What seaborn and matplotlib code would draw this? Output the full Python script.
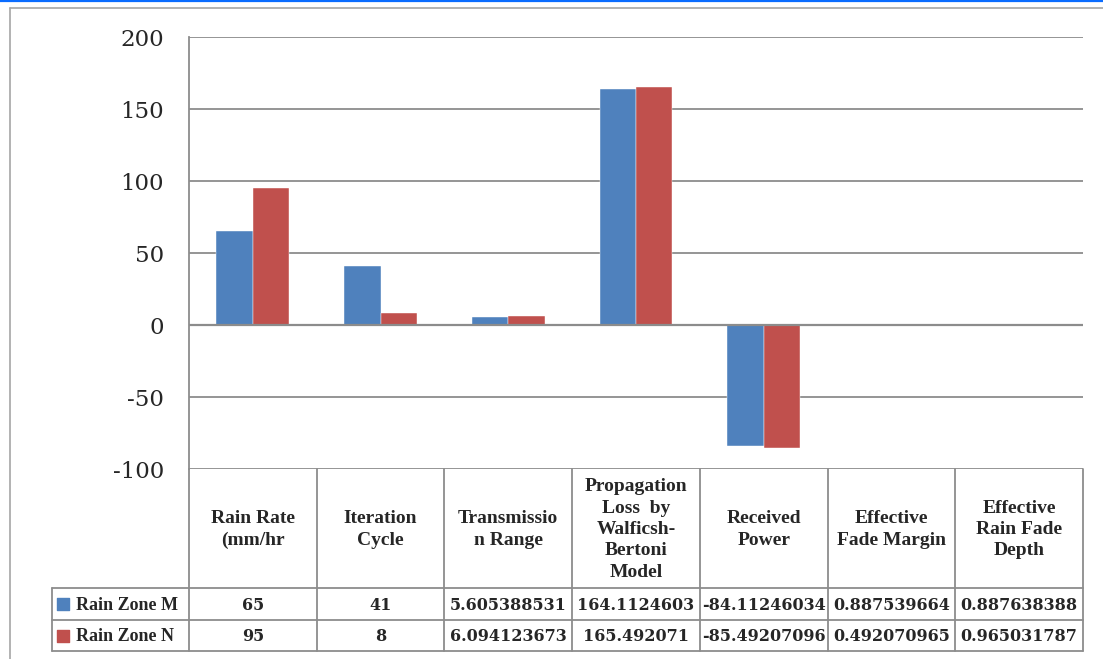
import numpy as np
import pandas as pd
import matplotlib
matplotlib.use("Agg")
import matplotlib.pyplot as plt
import seaborn as sns

# ================= DATA =================
categories = [
    "Rain Rate\n(mm/hr",
    "Iteration\nCycle",
    "Transmissio\nn Range",
    "Propagation\nLoss  by\nWalficsh-\nBertoni\nModel",
    "Received\nPower",
    "Effective\nFade Margin",
    "Effective\nRain Fade\nDepth",
]
series_names = ["Rain Zone M", "Rain Zone N"]
zone_m = [65, 41, 5.605388531, 164.1124603, -84.11246034, 0.887539664, 0.887638388]
zone_n = [95, 8, 6.094123673, 165.492071, -85.49207096, 0.492070965, 0.965031787]
zone_m_text = ["65", "41", "5.605388531", "164.1124603", "-84.11246034", "0.887539664", "0.887638388"]
zone_n_text = ["95", "8", "6.094123673", "165.492071", "-85.49207096", "0.492070965", "0.965031787"]
y_ticks = [-100, -50, 0, 50, 100, 150, 200]

colors = ["#4F81BD", "#C0504D"]
GRID = "#8c8c8c"

df = pd.DataFrame({
    "category": categories * 2,
    "series": [series_names[0]] * len(categories) + [series_names[1]] * len(categories),
    "value": zone_m + zone_n,
})

# ================= FIGURE =================
W, H = 1103, 659
fig = plt.figure(figsize=(W / 100, H / 100), dpi=100)
sns.set_style("white")
plt.rcParams["font.family"] = ["Liberation Serif", "DejaVu Serif"]
NUM_FONT = ["DejaVu Serif"]


def px(x0, y0, x1, y1):
    return [x0 / W, 1 - y1 / H, (x1 - x0) / W, (y1 - y0) / H]


# top blue rule and outer frame
fig.add_artist(plt.Line2D([0, 1], [1 - 0.8 / H, 1 - 0.8 / H], color="#0a6cff", lw=1.6))
fig.add_artist(plt.Line2D([9.5 / W, 1], [1 - 7.5 / H, 1 - 7.5 / H], color="#a6a6a6", lw=1.2))
fig.add_artist(plt.Line2D([9.5 / W, 9.5 / W], [0, 1 - 7.5 / H], color="#a6a6a6", lw=1.2))

# ================= BAR CHART =================
ax = fig.add_axes(px(189, 37, 1083, 469))
sns.barplot(data=df, x="category", y="value", hue="series", palette=colors,
            saturation=1, width=0.57, gap=0, ax=ax, legend=False,
            edgecolor="white", linewidth=0.3)
ax.set_ylim(-100, 200)
ax.set_xlim(-0.5, len(categories) - 0.5)
ax.set_yticks(y_ticks)
ax.set_yticklabels([str(t) for t in y_ticks], fontsize=16.5, family=NUM_FONT)
ax.tick_params(axis="y", length=0, pad=18)
ax.set_xticks([])
ax.set_xlabel("")
ax.set_ylabel("")
for t in y_ticks:
    ax.axhline(t, color=GRID, lw=1.3, zorder=0)
for side in ["top", "right", "bottom"]:
    ax.spines[side].set_visible(False)
ax.spines["left"].set_color(GRID)
ax.spines["left"].set_linewidth(1.3)
ax.axhline(0, color=GRID, lw=1.6, zorder=3)

# ================= DATA TABLE =================
n = len(categories)
col_w = (1083 - 189) / n
leg_left = -0.5 - (189 - 52) / col_w
tax = fig.add_axes(px(52, 469, 1083, 652))
tax.set_xlim(leg_left, n - 0.5)
tax.set_ylim(183, 0)
tax.axis("off")

row_top, row1, row2 = 119, 151, 182
for i in range(n + 1):
    tax.plot([i - 0.5, i - 0.5], [0, row2], color=GRID, lw=1.3, clip_on=False)
tax.plot([leg_left, leg_left], [row_top, row2], color=GRID, lw=1.3, clip_on=False)
for yy in [row_top, row1, row2]:
    tax.plot([leg_left, n - 0.5], [yy, yy], color=GRID, lw=1.3, clip_on=False)

for i, cat in enumerate(categories):
    tax.text(i, row_top / 2 + 1, cat, ha="center", va="center", fontsize=14,
             fontweight="bold", linespacing=1.33)
    tax.text(i, (row_top + row1) / 2 + 1, zone_m_text[i], ha="center", va="center",
             fontsize=11.5, fontweight="bold", family=NUM_FONT)
    tax.text(i, (row1 + row2) / 2 + 1, zone_n_text[i], ha="center", va="center",
             fontsize=11.5, fontweight="bold", family=NUM_FONT)

for k, (name, c) in enumerate(zip(series_names, colors)):
    yc = (row_top + row1) / 2 if k == 0 else (row1 + row2) / 2
    tax.scatter([leg_left + 0.085], [yc], marker="s", s=85, color=c, clip_on=False)
    tax.text(leg_left + 0.185, yc + 1, name, ha="left", va="center", fontsize=13,
             fontweight="bold")

fig.savefig("out.png", dpi=100)
